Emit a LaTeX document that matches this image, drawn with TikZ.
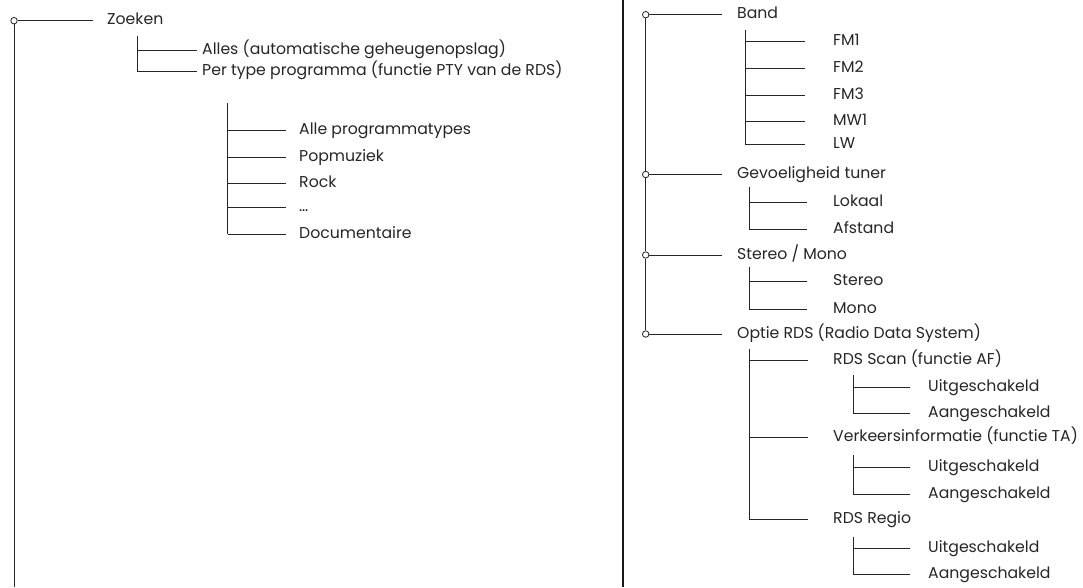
\documentclass[tikz,border=0pt]{standalone}
\usepackage{fontspec}
\setmainfont{Poppins}
\usepackage{tikz}
\usetikzlibrary{calc}

\begin{document}
\begin{tikzpicture}[x=1pt, y=-1pt,
    tree/.style={line width=0.9pt, draw=black!85},
    divider/.style={line width=2.4pt, draw=black!90},
    knob/.style={circle, draw=black!85, line width=0.8pt, fill=white,
        inner sep=0pt, minimum size=6.5pt},
    lbl/.style={anchor=west, inner sep=0pt, text height=11pt,
        text depth=0pt, text=black!85, font=\fontsize{15.7}{18}\selectfont}]
    \useasboundingbox (0,0) rectangle (1083,587);

    % left panel: Zoeken
    \node[knob] (kzoek) at (14,20.7) {};
    \node[lbl] (zoeken) at (107,19.2) {Zoeken};
    \draw[tree, shorten >=14pt] (kzoek) -- (kzoek -| zoeken.west);
    \coordinate (zoekbot) at (14,587);
    \draw[tree] (kzoek) -- (zoekbot);

    \coordinate (zoektop) at (137,36);
    \foreach \y/\n/\t in {50/alles/Alles (automatische geheugenopslag),
        71/pty/Per type programma (functie PTY van de RDS)} {
        \coordinate (j\n) at (137,\y);
        \node[lbl] (\n) at (202,\y-1.5) {\t};
        \draw[tree, shorten >=5pt] (j\n) -- (j\n -| \n.west);
    }
    \draw[tree] (zoektop) -- (jpty);

    \coordinate (ptytop) at (227.5,103);
    \foreach \y/\n/\t in {130/alle/Alle programmatypes, 157/pop/Popmuziek,
        183/rock/Rock, 207/dots/\dots, 234/docu/Documentaire} {
        \coordinate (j\n) at (227.5,\y);
        \node[lbl] (\n) at (299,\y-1.5) {\t};
        \draw[tree, shorten >=13pt] (j\n) -- (j\n -| \n.west);
    }
    \draw[tree] (ptytop) -- (jdocu);

    % divider
    \coordinate (divtop) at (623,0);
    \coordinate (divbot) at (623,587);
    \draw[divider] (divtop) -- (divbot);

    % right panel: main items
    \foreach \y/\n/\t in {14.7/band/Band, 174.5/gev/Gevoeligheid tuner,
        255/stm/{Stereo / Mono}, 334/rds/Optie RDS (Radio Data System)} {
        \node[knob] (k\n) at (645.7,\y) {};
        \node[lbl] (\n) at (737,\y-1.5) {\t};
        \draw[tree, shorten >=15pt] (k\n) -- (k\n -| \n.west);
    }
    \draw[tree] (kband) -- (kgev) -- (kstm) -- (krds);

    % Band
    \coordinate (bandtop) at (745,30);
    \foreach \y/\n/\t in {41/fma/FM1, 68/fmb/FM2, 95.5/fmc/FM3,
        121/mw/MW1, 144.5/lw/LW} {
        \coordinate (j\n) at (745,\y);
        \node[lbl] (\n) at (833,\y-1.5) {\t};
        \draw[tree, shorten >=28pt] (j\n) -- (j\n -| \n.west);
    }
    \draw[tree] (bandtop) -- (jlw);

    % Gevoeligheid tuner, Stereo / Mono
    \coordinate (gevtop) at (749,187);
    \coordinate (stmtop) at (749,267);
    \foreach \y/\n/\t in {202/lok/Lokaal, 229/afs/Afstand,
        281/ster/Stereo, 309/mono/Mono} {
        \coordinate (j\n) at (749,\y);
        \node[lbl] (\n) at (833,\y-1.5) {\t};
        \draw[tree, shorten >=26pt] (j\n) -- (j\n -| \n.west);
    }
    \draw[tree] (gevtop) -- (jafs);
    \draw[tree] (stmtop) -- (jmono);

    % Optie RDS
    \coordinate (rdstop) at (749,349);
    \foreach \y/\n/\t in {360/scan/RDS Scan (functie AF),
        437/ta/Verkeersinformatie (functie TA), 519/regio/RDS Regio} {
        \coordinate (j\n) at (749,\y);
        \node[lbl] (\n) at (833,\y-1.5) {\t};
        \draw[tree, shorten >=25pt] (j\n) -- (j\n -| \n.west);
    }
    \draw[tree] (rdstop) -- (jregio);

    \foreach \top/\ya/\yb/\n in {375/387/413/scan, 455/467/494/ta,
        537/548/574/regio} {
        \coordinate (\n top) at (853,\top);
        \coordinate (j\n uit) at (853,\ya);
        \coordinate (j\n aan) at (853,\yb);
        \node[lbl] (\n uit) at (928,\ya-1.5) {Uitgeschakeld};
        \node[lbl] (\n aan) at (928,\yb-1.5) {Aangeschakeld};
        \draw[tree, shorten >=18pt] (j\n uit) -- (j\n uit -| \n uit.west);
        \draw[tree, shorten >=18pt] (j\n aan) -- (j\n aan -| \n aan.west);
        \draw[tree] (\n top) -- (j\n aan);
    }
\end{tikzpicture}
\end{document}
